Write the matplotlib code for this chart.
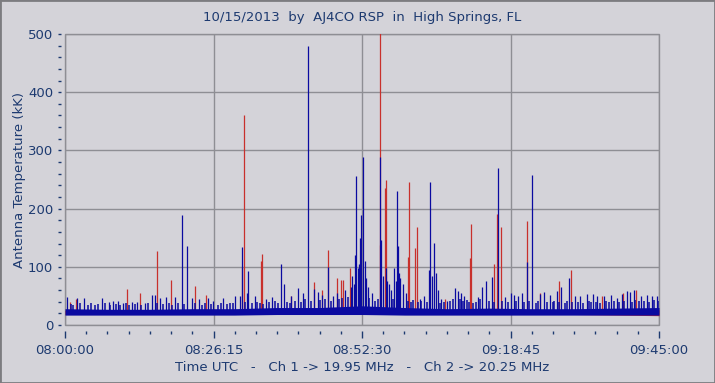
import numpy as np
import matplotlib.pyplot as plt
from matplotlib.patches import Rectangle
from matplotlib.ticker import MultipleLocator, FixedLocator

# minutes after 08:00:00 UTC
tick_minutes = [0, 26.25, 52.5, 78.75, 105]
tick_labels = ['08:00:00', '08:26:15', '08:52:30', '09:18:45', '09:45:00']

# baseline band, kK
band_t = [0, 7.5, 15, 22.5, 30, 37.5, 45, 52.5, 60, 67.5, 75, 82.5, 90, 97.5, 105]
ch2_band_lo = [17, 17, 17, 17, 17, 18, 18, 18, 17, 17, 17, 17, 17, 17, 17]
ch2_band_hi = [28, 27, 27, 28, 28, 30, 30, 33, 30, 28, 29, 28, 28, 29, 30]
ch1_band_lo = [18, 18, 18, 18, 18, 19, 19, 19, 18, 18, 18, 18, 18, 17, 16]
ch1_band_hi = [25, 25, 25, 25, 25, 27, 27, 29, 27, 25, 26, 25, 25, 25, 26]

# Ch 1 (19.95 MHz) bursts
ch1_t = [0.8, 1.9, 10.9, 13.3, 16.2, 18.7, 23.0, 24.9, 31.2, 31.6, 34.6, 34.9,
         40.0, 44.0, 45.4, 46.5, 48.1, 48.8, 49.1, 50.3, 52.0, 55.6, 55.7, 56.6,
         56.7, 60.7, 60.8, 61.9, 62.2, 67.2, 71.6, 71.8, 75.9, 76.4, 77.1, 81.7,
         84.0, 87.3, 89.4, 95.0, 98.6, 100.9]
ch1_v = [40, 45, 62, 55, 128, 77, 67, 52, 100, 361, 110, 122,
         50, 74, 60, 129, 80, 78, 78, 98, 62, 137, 520, 235,
         249, 117, 245, 132, 168, 45, 115, 173, 105, 191, 168, 179,
         55, 76, 94, 50, 55, 60]

# Ch 2 (20.25 MHz) bursts
ch2_t = [0.4, 2.1, 3.4, 6.6, 7.7, 8.5, 9.4, 10.3, 11.8, 12.8, 14.1, 15.3,
         15.9, 16.8, 17.8, 19.4, 20.7, 21.6, 22.4, 23.6, 25.3, 26.2, 28.0, 30.1,
         30.9, 31.3, 32.1, 32.4, 33.5, 35.5, 36.6, 38.2, 38.8, 40.0, 41.2, 42.0,
         43.0, 44.1, 44.7, 45.5, 46.5, 47.4, 48.0, 49.5, 50.5, 50.8, 51.0, 51.2,
         51.5, 51.8, 52.0, 52.2, 52.4, 52.7, 53.0, 53.2, 53.6, 54.3, 55.7, 55.9,
         56.3, 56.7, 57.0, 57.2, 57.6, 58.2, 58.5, 58.7, 58.9, 59.1, 59.3, 59.8,
         60.2, 62.8, 63.5, 64.3, 64.6, 64.9, 65.3, 65.6, 66.0, 66.5, 67.5, 68.9,
         69.4, 70.0, 70.6, 73.0, 73.7, 74.4, 75.4, 76.6, 77.8, 78.9, 79.3, 80.1,
         80.7, 81.6, 82.6, 84.0, 84.7, 85.7, 86.9, 87.7, 89.1, 90.2, 91.0, 92.2,
         93.3, 94.0, 95.2, 96.6, 97.5, 98.4, 99.3, 99.9, 100.5, 101.9, 102.8, 103.7,
         104.6]
ch2_v = [48, 46, 46, 46, 40, 41, 41, 38, 40, 40, 38, 52,
         52, 46, 48, 48, 189, 136, 46, 44, 46, 41, 46, 49,
         49, 134, 55, 92, 50, 45, 48, 105, 70, 50, 63, 55,
         479, 62, 57, 52, 100, 50, 55, 60, 65, 85, 70, 120,
         256, 98, 105, 150, 189, 289, 110, 80, 65, 55, 289, 146,
         85, 98, 75, 70, 60, 98, 75, 231, 136, 90, 80, 70,
         55, 45, 50, 95, 245, 85, 141, 90, 60, 45, 42, 63,
         58, 55, 50, 48, 66, 76, 83, 270, 48, 55, 52, 50,
         55, 109, 258, 54, 57, 51, 59, 66, 81, 49, 50, 53,
         54, 50, 49, 51, 46, 53, 59, 57, 60, 49, 51, 49,
         50]

# low-level noise spikes on Ch 2 (top of the baseline fuzz)
ch2_fuzz_t = [1.0, 1.5, 2.7, 4.0, 4.6, 5.3, 5.9, 7.1, 8.0, 9.0, 9.8, 10.8,
              11.3, 12.3, 13.5, 14.6, 16.3, 17.3, 18.3, 18.9, 20.0, 21.0, 23.0, 24.3,
              24.8, 25.8, 27.0, 27.5, 28.6, 29.2, 29.7, 31.8, 33.0, 34.0, 34.5, 35.0,
              36.0, 37.2, 37.7, 39.3, 39.7, 40.6, 41.7, 42.5, 43.5, 45.0, 46.0, 47.0,
              48.5, 49.0, 50.0, 53.8, 54.8, 55.3, 57.9, 60.6, 61.2, 61.6, 62.4, 63.0,
              64.0, 66.2, 67.0, 68.0, 68.5, 69.8, 70.3, 71.0, 71.4, 72.2, 72.6, 73.3,
              75.0, 75.8, 77.3, 78.3, 79.7, 81.1, 82.1, 83.2, 83.6, 85.2, 86.2, 86.5,
              87.3, 88.4, 88.8, 89.6, 90.6, 91.5, 92.6, 93.0, 93.8, 94.5, 95.6, 96.1,
              97.0, 97.9, 98.8, 100.2, 100.8, 101.4, 102.3, 103.2, 104.2, 104.9]
ch2_fuzz_v = [36, 34, 37, 35, 38, 34, 36, 37, 35, 36, 34, 37,
              35, 36, 34, 37, 38, 36, 37, 35, 38, 36, 37, 35,
              38, 36, 35, 38, 36, 37, 38, 39, 37, 40, 38, 36,
              39, 41, 38, 40, 37, 42, 40, 44, 41, 43, 45, 42,
              44, 46, 48, 46, 42, 44, 45, 42, 40, 43, 40, 41,
              39, 38, 40, 41, 44, 45, 42, 43, 40, 38, 40, 44,
              42, 40, 41, 40, 42, 39, 41, 38, 42, 40, 39, 41,
              40, 38, 42, 39, 40, 38, 41, 39, 40, 38, 41, 39,
              42, 40, 41, 40, 43, 41, 42, 40, 43, 41]

bg = '#d4d3d9'
txt = '#1d3a70'
red = '#c8302c'
blue = '#0a0aa0'
grid_c = '#8e8e94'

fig = plt.figure(figsize=(7.15, 3.83), dpi=100, facecolor=bg)
ax = fig.add_axes([65 / 715, 58 / 383, 594 / 715, 291 / 383], facecolor=bg)

ax.fill_between(band_t, ch1_band_lo, ch1_band_hi, color=red, lw=0, zorder=2)
ax.vlines(ch1_t, 20, ch1_v, color=red, lw=0.9, zorder=2)
ax.fill_between(band_t, ch2_band_lo, ch2_band_hi, color=blue, lw=0, zorder=3)
ax.vlines(ch2_fuzz_t, 20, ch2_fuzz_v, color=blue, lw=1.1, zorder=3)
ax.vlines(ch2_t, 20, ch2_v, color=blue, lw=0.9, zorder=3)

ax.set_xlim(0, 105)
ax.set_ylim(0, 500)

ax.xaxis.set_major_locator(FixedLocator(tick_minutes))
ax.set_xticklabels(tick_labels)
ax.xaxis.set_minor_locator(MultipleLocator(3.75))
ax.yaxis.set_major_locator(MultipleLocator(100))
ax.yaxis.set_minor_locator(MultipleLocator(20))

ax.grid(True, which='major', color=grid_c, lw=1)
ax.set_axisbelow(True)
for s in ax.spines.values():
    s.set_visible(False)
ax.spines['bottom'].set_position(('outward', 4))
ax.spines['left'].set_position(('outward', 3))
ax.add_patch(Rectangle((0, 0), 1, 1, transform=ax.transAxes, fill=False,
                       ec=grid_c, lw=1, clip_on=False, zorder=1))

ax.tick_params(axis='x', which='major', length=5, width=1, color=txt,
               labelcolor=txt, labelsize=9.5, pad=5)
ax.tick_params(axis='x', which='minor', length=2.5, width=1, color=txt)
ax.tick_params(axis='y', which='both', length=2.5, width=1, color=txt,
               labelcolor=txt, labelsize=9.5, pad=3)

ax.set_xlabel('Time UTC   -   Ch 1 -> 19.95 MHz   -   Ch 2 -> 20.25 MHz',
              color=txt, fontsize=9.5)
ax.xaxis.set_label_coords(0.5, -0.122)
ax.set_ylabel('Antenna Temperature (kK)', color=txt, fontsize=9.5)
ax.yaxis.set_label_coords(-0.066, 0.5)

fig.text(362 / 715, 1 - 18 / 383, '10/15/2013  by  AJ4CO RSP  in  High Springs, FL',
         color=txt, fontsize=9.5, ha='center', va='center')

fig.add_artist(Rectangle((0, 0), 1, 1, transform=fig.transFigure, fill=False,
                         ec='#7c7c80', lw=2))

fig.savefig('out.png', dpi=100, facecolor=bg)
